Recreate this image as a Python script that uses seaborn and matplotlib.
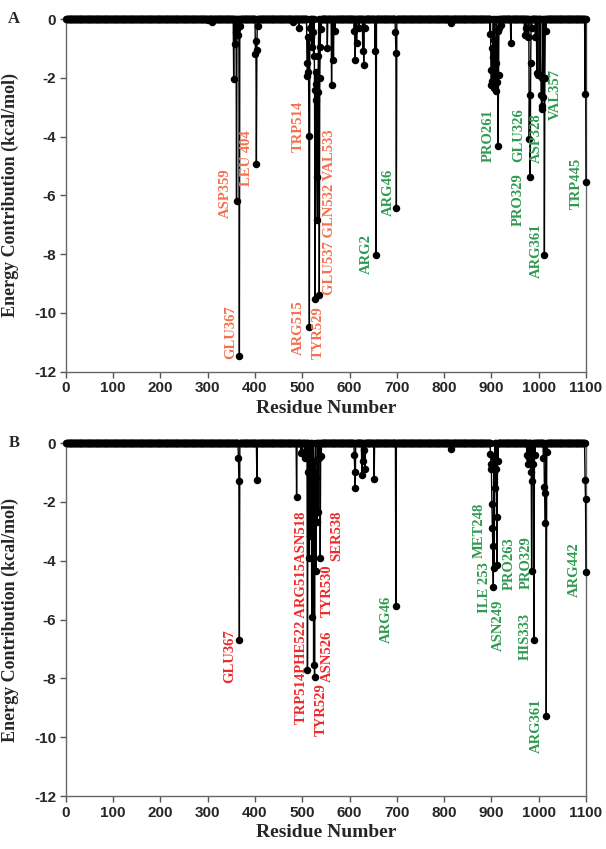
import numpy as np
import pandas as pd
import matplotlib
matplotlib.use("Agg")
import matplotlib.pyplot as plt
import seaborn as sns

# ---- data (residues not listed sit at 0 kcal/mol) ----
n_residues = 1100

a_res = [300, 310, 355, 358, 359, 361, 363, 365, 367, 369,
         401, 402, 403, 404, 406, 480, 493,
         510, 511, 512, 513, 514, 515, 516, 518, 520, 522, 524, 526, 527,
         528, 529, 530, 531, 532, 533, 534, 536, 537, 538, 540,
         553, 562, 566, 569, 610, 612, 615, 620, 628, 630, 632,
         654, 656, 697, 698, 699, 815,
         897, 899, 900, 901, 902, 903, 905, 906, 908, 909, 910, 912, 913,
         914, 915, 917, 920, 941, 970, 973, 978, 980, 981, 982, 983, 985,
         993, 996, 998, 1003, 1005, 1006, 1007, 1008, 1010, 1012, 1013, 1015,
         1098, 1100]
a_val = [-0.05, -0.1, -2.05, -0.85, -0.45, -6.2, -0.35, -0.55, -11.45, -0.25,
         -1.2, -0.75, -4.95, -1.05, -0.25, -0.1, -0.3,
         -1.5, -1.95, -1.8, -0.6, -3.97, -10.48, -0.3, -0.6, -0.95, -0.45, -1.25, -2.4, -9.52,
         -2.75, -1.8, -2.2, -5.37, -6.84, -2.5, -1.25, -9.39, -2.0, -0.95, -0.35,
         -1.0, -2.26, -1.4, -0.4, -0.4, -1.4, -0.8, -0.3, -1.1, -1.55, -0.3,
         -1.1, -8.03, -0.45, -1.15, -6.42, -0.15,
         -0.5, -1.75, -2.25, -1.0, -2.1, -1.3, -2.35, -0.7, -1.85, -2.45, -1.5, -2.15, -0.4,
         -4.31, -1.9, -0.3, -0.2, -0.8, -0.55, -0.3, -0.6, -4.08, -2.6, -5.36, -1.5, -0.3,
         -0.6, -1.85, -1.9, -1.9, -2.6, -2.95, -3.05, -2.0, -2.65, -8.03, -2.0, -0.4,
         -2.55, -5.53]

b_res = [365, 366, 367, 404, 488, 497, 499, 505, 508,
         511, 512, 514, 515, 517, 518, 520, 521, 522, 524, 525, 526, 527,
         529, 530, 531, 533, 535, 538, 540,
         610, 611, 612, 626, 628, 630, 633, 652, 698, 815,
         898, 899, 900, 901, 902, 903, 904, 905, 906, 908, 909, 911, 912, 914,
         975, 978, 980, 983, 985, 986, 988, 990, 992,
         1010, 1012, 1013, 1014, 1016, 1018, 1098, 1099, 1100]
b_val = [-0.5, -1.3, -6.7, -1.27, -1.82, -0.35, -0.3, -0.5, -0.3,
         -7.73, -1.0, -3.9, -0.5, -3.15, -1.5, -5.9, -0.8, -2.0, -7.56, -1.0, -7.97, -0.6,
         -4.36, -1.2, -2.7, -2.33, -0.5, -3.9, -0.45,
         -0.4, -1.0, -1.53, -1.08, -0.6, -0.25, -0.9, -1.22, -5.53, -0.2,
         -0.36, -0.7, -0.9, -2.07, -2.89, -3.49, -4.88, -0.5, -4.25, -1.53, -0.9, -2.5, -4.15, -0.6,
         -0.4, -0.7, -0.5, -1.0, -4.34, -1.3, -0.7, -6.7, -0.4,
         -0.5, -1.48, -1.7, -2.72, -9.27, -0.3, -1.25, -1.9, -4.4]

# residue labels
a_labels = ["ASP359", "LEU 404", "GLU367", "TRP514", "GLU537 GLN532 VAL533",
            "ARG515", "TYR529", "ARG2", "ARG46", "PRO261", "GLU326", "PRO329",
            "ASP328", "ARG361", "VAL357", "TRP445"]
a_lab_x = [337, 383, 349, 491, 558, 491, 534, 636, 682, 893, 957, 957, 995, 994, 1036, 1079]
a_lab_y = [-5.92, -4.73, -10.65, -3.64, -6.58, -10.5, -10.66, -8.0, -5.9,
           -3.97, -3.96, -6.16, -4.05, -7.87, -2.57, -5.6]
a_lab_grp = ["ligand"] * 7 + ["receptor"] * 9

b_labels = ["TRP514PHE522 ARG515ASN518", "TYR529", "ASN526", "TYR530", "SER538",
            "GLU367", "ARG46", "MET248", "ILE 253", "ASN249", "PRO263",
            "PRO329", "HIS333", "ARG361", "ARG442"]
b_lab_x = [499, 541, 553, 553, 573, 347, 678, 874, 886, 914, 938, 974, 971, 996, 1076]
b_lab_y = [-5.95, -9.08, -7.26, -5.03, -3.16, -7.23, -6.0, -2.98, -4.93,
           -6.2, -4.1, -4.08, -6.56, -9.6, -4.32]
b_lab_grp = ["ligand"] * 6 + ["receptor"] * 9


def build_profile(res, val):
    residue = np.arange(1, n_residues + 1)
    energy = np.zeros(n_residues)
    energy[np.array(res) - 1] = val
    return pd.DataFrame({"residue": residue, "energy": energy})


def draw_panel(ax, df, labels, lab_x, lab_y, lab_grp, colors, letter):
    sns.lineplot(data=df, x="residue", y="energy", ax=ax, estimator=None,
                 color="black", linewidth=1.0, marker="o", markersize=5.4,
                 markeredgewidth=0, clip_on=False, zorder=3)
    for txt, x, y, g in zip(labels, lab_x, lab_y, lab_grp):
        ax.text(x, y, txt, rotation=90, ha="center", va="center",
                color=colors[g], fontsize=10.5, fontweight="bold",
                family="Liberation Serif", zorder=4)

    ax.set_xlim(0, 1100)
    ax.set_ylim(-12, 0)
    ax.set_xticks(range(0, 1101, 100))
    ax.set_yticks(range(-12, 1, 2))
    ax.tick_params(direction="out", length=4, width=1, color="#555555",
                   labelsize=11, pad=3)
    for lab in ax.get_xticklabels() + ax.get_yticklabels():
        lab.set_fontweight("bold")
        lab.set_family("Liberation Sans")
    for sp in ax.spines.values():
        sp.set_color("#666666")
        sp.set_linewidth(1.0)

    ax.set_xlabel("Residue Number", fontsize=14, fontweight="bold",
                  family="Liberation Serif", labelpad=3)
    ax.set_ylabel("Energy Contribution (kcal/mol)", fontsize=13,
                  fontweight="bold", family="Liberation Serif")
    ax.yaxis.set_label_coords(-0.09, 0.5)
    ax.text(-0.1, 1.0, letter, transform=ax.transAxes, ha="center",
            va="center", fontsize=12, fontweight="bold",
            family="Liberation Serif")


sns.set_style("ticks")
plt.rcParams["axes.unicode_minus"] = False
plt.rcParams["font.family"] = ["Liberation Sans", "DejaVu Sans"]

fig = plt.figure(figsize=(6.06, 8.49), dpi=100)
ax_a = fig.add_axes([0.1086, 0.5622, 0.8584, 0.4154])
ax_b = fig.add_axes([0.1086, 0.0624, 0.8584, 0.4158])

draw_panel(ax_a, build_profile(a_res, a_val), a_labels, a_lab_x, a_lab_y,
           a_lab_grp, {"ligand": "#F4704F", "receptor": "#2E9A4F"}, "A")
draw_panel(ax_b, build_profile(b_res, b_val), b_labels, b_lab_x, b_lab_y,
           b_lab_grp, {"ligand": "#EC2A2C", "receptor": "#2E9A4F"}, "B")

fig.savefig("out.png", dpi=100)
